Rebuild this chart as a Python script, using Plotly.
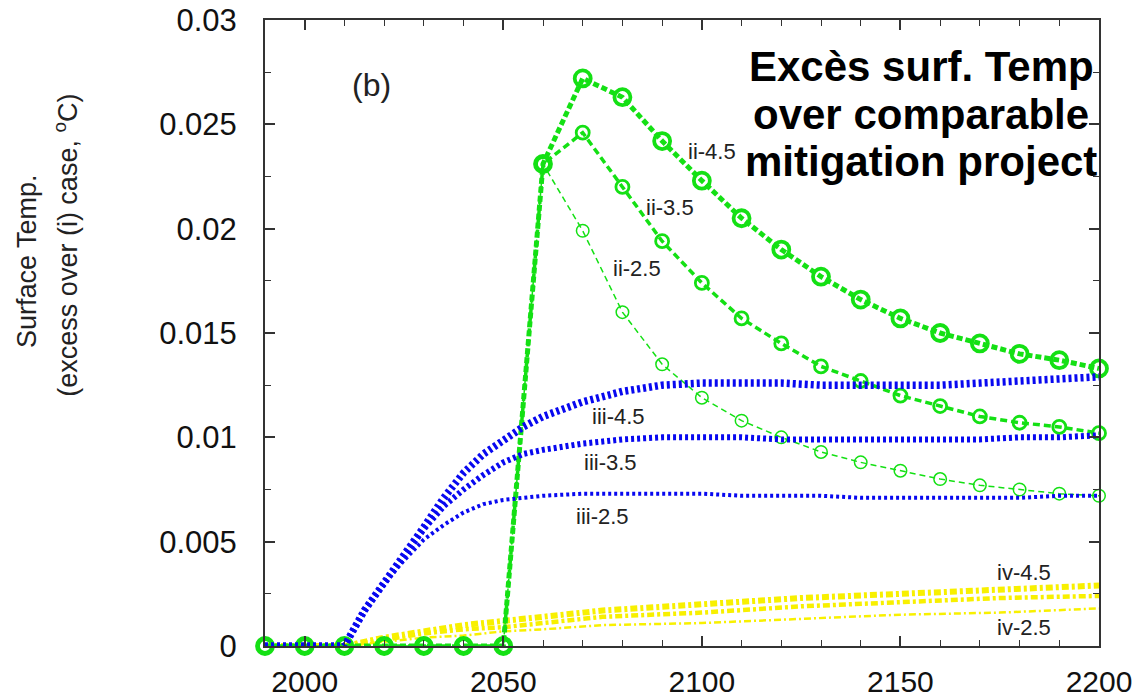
import plotly.graph_objects as go

# ---------------- data ----------------
years_ii = [1990, 2000, 2010, 2020, 2030, 2040, 2050, 2060, 2070, 2080, 2090, 2100,
            2110, 2120, 2130, 2140, 2150, 2160, 2170, 2180, 2190, 2200]
ii_45 = [0, 0, 0, 0, 0, 0, 0, 0.0231, 0.0272, 0.0263, 0.0242, 0.0223, 0.0205, 0.0190,
         0.0177, 0.0166, 0.0157, 0.0150, 0.0145, 0.0140, 0.0137, 0.0133]
ii_35 = [0, 0, 0, 0, 0, 0, 0, 0.0231, 0.0246, 0.0220, 0.0194, 0.0174, 0.0157, 0.0145,
         0.0134, 0.0127, 0.0120, 0.0115, 0.0110, 0.0107, 0.0105, 0.0102]
ii_25 = [0, 0, 0, 0, 0, 0, 0, 0.0231, 0.0199, 0.0160, 0.0135, 0.0119, 0.0108, 0.0100,
         0.0093, 0.0088, 0.0084, 0.0080, 0.0077, 0.0075, 0.0073, 0.0072]

years_iii = [1990, 2000, 2010, 2015, 2020, 2025, 2030, 2035, 2040, 2045, 2050, 2055, 2060,
             2070, 2080, 2090, 2100, 2110, 2120, 2130, 2140, 2150, 2160, 2170, 2180, 2190, 2200]
iii_45 = [0, 0, 0, 0.0017, 0.0030, 0.0043, 0.0057, 0.0071, 0.0083, 0.0092, 0.0099, 0.0105, 0.0110,
          0.0117, 0.0122, 0.0125, 0.0126, 0.0126, 0.0126, 0.0125, 0.0125, 0.0125, 0.0125,
          0.0126, 0.0127, 0.0128, 0.0129]
iii_35 = [0, 0, 0, 0.0017, 0.0030, 0.0043, 0.0056, 0.0067, 0.0075, 0.0082, 0.0088, 0.0092, 0.0094,
          0.0097, 0.0099, 0.0100, 0.0100, 0.0100, 0.0099, 0.0099, 0.0099, 0.0099, 0.0099,
          0.0099, 0.0100, 0.0100, 0.0101]
iii_25 = [0, 0, 0, 0.0017, 0.0030, 0.0041, 0.0051, 0.0058, 0.0064, 0.0068, 0.0070, 0.0071, 0.0072,
          0.0073, 0.0073, 0.0073, 0.0073, 0.0072, 0.0072, 0.0072, 0.0071, 0.0071, 0.0071,
          0.0071, 0.0071, 0.0072, 0.0072]

years_iv = [1990, 2000, 2010, 2020, 2030, 2040, 2050, 2060, 2075, 2100, 2125, 2150, 2175, 2200]
iv_45 = [0, 0, 0, 0.0004, 0.0007, 0.0010, 0.0012, 0.0014, 0.0017, 0.0020, 0.0023, 0.0025, 0.0027, 0.0029]
iv_35 = [0, 0, 0, 0.0003, 0.0006, 0.0008, 0.0009, 0.0011, 0.0014, 0.0016, 0.0019, 0.0021, 0.0023, 0.0024]
iv_25 = [0, 0, 0, 0.0002, 0.0004, 0.0005, 0.0007, 0.0008, 0.0010, 0.0011, 0.0013, 0.0015, 0.0016, 0.0018]

x_ticks = [2000, 2050, 2100, 2150, 2200]
x_ticklabels = ["2000", "2050", "2100", "2150", "2200"]
y_ticks = [0, 0.005, 0.01, 0.015, 0.02, 0.025, 0.03]
y_ticklabels = ["0", "0.005", "0.01", "0.015", "0.02", "0.025", "0.03"]

# series labels: (text, x-year, y-value)
series_labels = [
    ("ii-4.5", 2102.6, 0.0237),
    ("ii-3.5", 2092.0, 0.0210),
    ("ii-2.5", 2083.7, 0.0181),
    ("iii-4.5", 2079.1, 0.0110),
    ("iii-3.5", 2076.9, 0.0088),
    ("iii-2.5", 2074.9, 0.0062),
    ("iv-4.5", 2181.1, 0.0035),
    ("iv-2.5", 2181.1, 0.0009),
]
title_lines = ["Excès surf. Temp", "over comparable", "mitigation project"]
panel_label = "(b)"
ytitle_lines = ["Surface Temp.", "(excess over (i) case, <sup>o</sup>C)"]

GREEN = "#14e014"
BLUE = "#0808f0"
YELLOW = "#f8f000"
FONT = "Liberation Sans, Arial, Helvetica, sans-serif"

fig = go.Figure()

# yellow (iv)
for ys, w, dash in [(iv_25, 2.5, "7px,3px,2px,3px"),
                    (iv_35, 4.5, "7px,3px,3px,3px"),
                    (iv_45, 6, "7px,3px,3px,3px")]:
    fig.add_trace(go.Scatter(x=years_iv, y=ys, mode="lines", cliponaxis=False,
                             line=dict(color=YELLOW, width=w, dash=dash)))

# green (ii)
for ys, w, dash, msize, mw in [(ii_25, 1.5, "6px,4px", 12.5, 1.5),
                               (ii_35, 3.5, "7px,4px", 13, 2.8),
                               (ii_45, 5, "6px,3px", 16, 3.8)]:
    fig.add_trace(go.Scatter(x=years_ii, y=ys, mode="lines+markers", cliponaxis=False,
                             line=dict(color=GREEN, width=w, dash=dash),
                             marker=dict(symbol="circle-open", size=msize,
                                         line=dict(color=GREEN, width=mw), color=GREEN)))

# blue (iii)
for ys, w, dash in [(iii_25, 4, "3px,3px"),
                    (iii_35, 6, "3px,3px"),
                    (iii_45, 7.5, "3px,3px")]:
    fig.add_trace(go.Scatter(x=years_iii, y=ys, mode="lines", cliponaxis=False,
                             line=dict(color=BLUE, width=w, dash=dash)))

annotations = []
for txt, xv, yv in series_labels:
    annotations.append(dict(x=xv, y=yv, xref="x", yref="y", text=txt, showarrow=False,
                            xanchor="center", yanchor="middle",
                            font=dict(family=FONT, size=22, color="#222")))
annotations.append(dict(x=2016.7, y=0.0269, xref="x", yref="y", text=panel_label,
                        xanchor="center", yanchor="middle",
                        showarrow=False, font=dict(family=FONT, size=32, color="#222")))
for i, line in enumerate(title_lines):
    annotations.append(dict(x=2155.2, y=[0.02775, 0.02548, 0.02323][i], xref="x", yref="y",
                            text="<b>" + line + "</b>", showarrow=False,
                            xanchor="center", yanchor="middle",
                            font=dict(family=FONT, size=42, color="black")))
annotations.append(dict(x=-0.2854, y=0.615, xref="paper", yref="paper", text=ytitle_lines[0],
                        textangle=-90, showarrow=False, xanchor="center", yanchor="middle",
                        font=dict(family=FONT, size=27, color="#222")))
annotations.append(dict(x=-0.239, y=0.6406, xref="paper", yref="paper", text=ytitle_lines[1],
                        textangle=-90, showarrow=False, xanchor="center", yanchor="middle",
                        font=dict(family=FONT, size=27, color="#222")))

axis_common = dict(showgrid=False, zeroline=False, showline=True, linecolor="#333",
                   linewidth=2, mirror="allticks", ticks="inside", ticklen=10, tickwidth=1.5,
                   tickcolor="#333", automargin=False)

fig.update_layout(
    width=1148, height=698,
    margin=dict(l=265, r=49, t=20, b=52),
    plot_bgcolor="white", paper_bgcolor="white",
    showlegend=False,
    annotations=annotations,
    xaxis=dict(range=[1990, 2200], tickmode="array", tickvals=x_ticks, ticktext=x_ticklabels,
               ticklabelstandoff=8, tickfont=dict(family=FONT, size=30, color="#111"),
               minor=dict(tickmode="linear", tick0=1990, dtick=10, ticks="inside", ticklen=6,
                          tickwidth=1.2, tickcolor="#333", showgrid=False),
               **axis_common),
    yaxis=dict(range=[0, 0.03], tickmode="array", tickvals=y_ticks, ticktext=y_ticklabels,
               ticklabelstandoff=20, tickfont=dict(family=FONT, size=31, color="#111"),
               minor=dict(tickmode="linear", tick0=0, dtick=0.0025, ticks="inside", ticklen=6,
                          tickwidth=1.2, tickcolor="#333", showgrid=False),
               **axis_common),
)

# remove the default page margin so the figure sits at the window's top-left corner
fig.write_html("out.html", config={"displayModeBar": False},
               post_script="document.body.style.margin='0';document.body.style.padding='0';"
                           "document.body.style.overflow='hidden';window.scrollTo(0,0);")
